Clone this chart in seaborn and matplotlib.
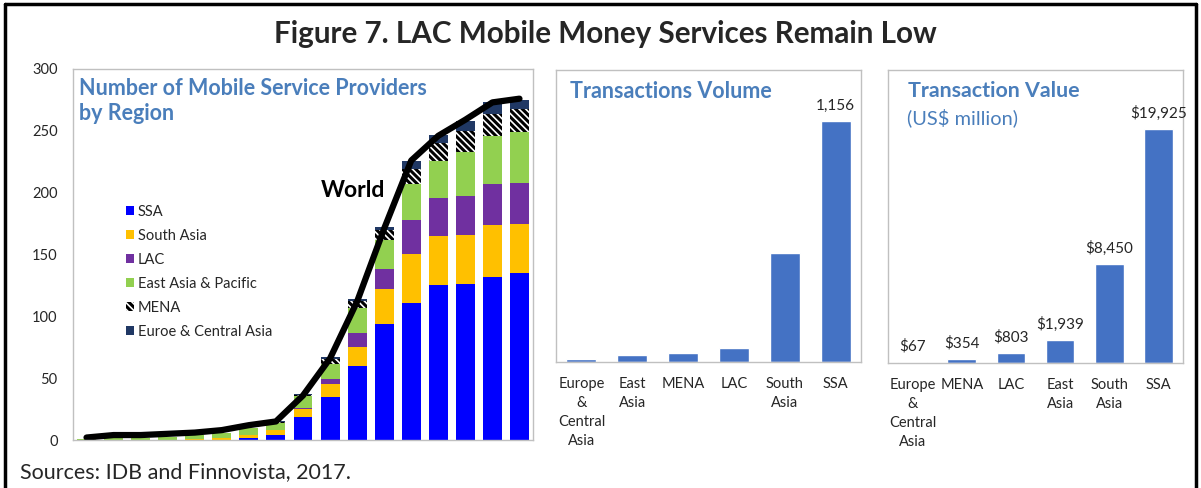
import numpy as np
import matplotlib
matplotlib.use("Agg")
import matplotlib.pyplot as plt
import matplotlib.patches as mpatches
from matplotlib.lines import Line2D
import seaborn as sns

# --------------------------------------------------
# Data
# --------------------------------------------------

years = [str(y) for y in range(2001, 2018)]

ssa = [0, 0, 0, 0, 0, 0, 2, 4, 19, 35, 60, 94, 111, 125, 126, 132, 135]
south_asia = [0, 0, 0, 0, 0.5, 1.5, 2, 4, 6, 10, 15.5, 28.5, 39, 40, 40, 41.5, 40]
lac = [0, 0, 0, 0, 0, 0, 0, 0, 1, 4, 11, 16, 27.5, 31, 31, 33.5, 33]
east_asia_pacific = [1, 2, 2, 2.5, 3.5, 4, 5.5, 5.5, 9.5, 12.5, 20, 23, 29.5, 30, 36, 39, 41]
mena = [0, 0, 0, 0, 0, 0, 0, 1, 1, 4, 5.5, 8, 12.5, 14, 17, 17.5, 19]
europe_central_asia = [0, 0, 0, 0, 0, 0, 0, 0.5, 0.5, 1.5, 2, 3, 6, 7, 8, 10, 7]
world = [2, 4, 4, 5, 6, 8, 12, 15, 36, 66, 112, 171, 226, 246, 259, 273, 276]

region_names = ["SSA", "South Asia", "LAC", "East Asia & Pacific",
                "MENA", "Euroe & Central Asia"]

vol_regions = ["Europe\n&\nCentral\nAsia", "East\nAsia", "MENA", "LAC",
               "South\nAsia", "SSA"]
vol_values = [13, 34, 42, 64, 523, 1156]

val_regions = ["Europe\n&\nCentral\nAsia", "MENA", "LAC", "East\nAsia",
               "South\nAsia", "SSA"]
val_values = [67, 354, 803, 1939, 8450, 19925]

# --------------------------------------------------
# Style
# --------------------------------------------------

sns.set_style("white")
plt.rcParams["font.family"] = ["Lato", "DejaVu Sans"]
plt.rcParams["hatch.linewidth"] = 2.2

TITLE_BLUE = "#4A7EBB"
BAR_BLUE = "#4472C4"
SPINE_GRAY = "#C0C0C0"
region_colors = ["#0000FF", "#FFC000", "#7030A0", "#92D050", "white", "#203864"]
region_hatch = [None, None, None, None, "\\" * 5, None]

W, H = 1201, 488
fig = plt.figure(figsize=(W / 100, H / 100), dpi=100)


def px_axes(x0, y_top, width, y_bottom):
    """Add axes from pixel coordinates of the reference."""
    return fig.add_axes([x0 / W, 1 - y_bottom / H, width / W, (y_bottom - y_top) / H])


def gray_box(ax):
    for s in ax.spines.values():
        s.set_visible(True)
        s.set_color(SPINE_GRAY)
        s.set_linewidth(1)


# --------------------------------------------------
# Left: number of providers, stacked by region
# --------------------------------------------------

ax1 = px_axes(73, 69, 460, 440)
stack = np.array([ssa, south_asia, lac, east_asia_pacific, mena, europe_central_asia])
cum = stack.cumsum(axis=0)

# draw the running totals from the top layer down so lower layers cover upper ones
for i in range(len(region_names) - 1, -1, -1):
    kw = dict(color=region_colors[i], width=0.7, saturation=1,
              errorbar=None, ax=ax1, linewidth=0)
    if region_hatch[i]:
        kw.update(hatch=region_hatch[i], edgecolor="black")
    sns.barplot(x=years, y=cum[i], **kw)

sns.lineplot(x=np.arange(len(years)), y=world, color="black", linewidth=4.5,
             solid_capstyle="round", solid_joinstyle="round", ax=ax1)

ax1.set_xlim(-0.5, len(years) - 0.5)
ax1.set_ylim(0, 300)
ax1.set_yticks(range(0, 301, 50))
ax1.set_xticks([])
ax1.set_xlabel("")
ax1.set_ylabel("")
ax1.tick_params(axis="y", length=0, pad=11, labelsize=10.5, labelcolor="#262626")
gray_box(ax1)

ax1.text(0.013, 0.914, "Number of Mobile Service Providers\nby Region",
         transform=ax1.transAxes, ha="left", va="center", fontsize=15.5,
         fontweight="bold", color=TITLE_BLUE, linespacing=1.27)
ax1.text(9.85, 202, "World", ha="center", va="center", fontsize=16.5,
         fontweight="bold", color="black")

handles = [mpatches.Patch(facecolor=c, edgecolor="black" if h else c,
                          hatch=h, linewidth=0, label=n)
           for n, c, h in zip(region_names, region_colors, region_hatch)]
ax1.legend(handles=handles, loc="upper left", bbox_to_anchor=(0.1, 0.653),
           frameon=False, fontsize=10.5, borderpad=0, handlelength=0.55,
           handleheight=0.55, handletextpad=0.25, labelspacing=0.68)

# --------------------------------------------------
# Middle: transactions volume
# --------------------------------------------------

ax2 = px_axes(556, 70, 305, 361.7)
sns.barplot(x=vol_regions, y=vol_values, color=BAR_BLUE, width=0.59,
            saturation=1, errorbar=None, ax=ax2)
ax2.set_ylim(0, 1400)
vol_labels = [f"{v:,}" if v == max(vol_values) else "" for v in vol_values]
ax2.bar_label(ax2.containers[0], labels=vol_labels, padding=6, fontsize=11,
              color="#262626")
ax2.text(0.046, 0.925, "Transactions Volume", transform=ax2.transAxes,
         ha="left", va="center", fontsize=15.5, fontweight="bold", color=TITLE_BLUE)

# --------------------------------------------------
# Right: transaction value
# --------------------------------------------------

ax3 = px_axes(888, 70, 295, 362.7)
sns.barplot(x=val_regions, y=val_values, color=BAR_BLUE, width=0.58,
            saturation=1, errorbar=None, ax=ax3)
ax3.set_ylim(0, 25000)
ax3.bar_label(ax3.containers[0], labels=[f"${v:,}" for v in val_values],
              padding=6, fontsize=11, color="#262626")
ax3.text(0.068, 0.929, "Transaction Value", transform=ax3.transAxes,
         ha="left", va="center", fontsize=15.4, fontweight="bold", color=TITLE_BLUE)
ax3.text(0.065, 0.836, "(US$ million)", transform=ax3.transAxes,
         ha="left", va="center", fontsize=14.4, color=TITLE_BLUE)

for ax in (ax2, ax3):
    ax.set_yticks([])
    ax.set_xlabel("")
    ax.set_ylabel("")
    ax.tick_params(axis="x", length=0, pad=11, labelsize=10.5, labelcolor="#262626")
    for lbl in ax.get_xticklabels():
        lbl.set_linespacing(1.45)
    gray_box(ax)

# --------------------------------------------------
# Figure title, source note and outer frame
# --------------------------------------------------

fig.text(0.504, 0.93, "Figure 7. LAC Mobile Money Services Remain Low",
         ha="center", va="center", fontsize=21.3, fontweight="bold")
fig.text(0.0167, 0.033, "Sources: IDB and Finnovista, 2017.",
         ha="left", va="center", fontsize=15.5)

for xs, ys in [([5 / W, 5 / W], [0, 1 - 4 / H]),
               ([1196 / W, 1196 / W], [0, 1 - 4 / H]),
               ([5 / W, 1196 / W], [1 - 4 / H, 1 - 4 / H])]:
    fig.add_artist(Line2D(xs, ys, transform=fig.transFigure, color="black", linewidth=2.5))

fig.savefig("out.png", dpi=100)
